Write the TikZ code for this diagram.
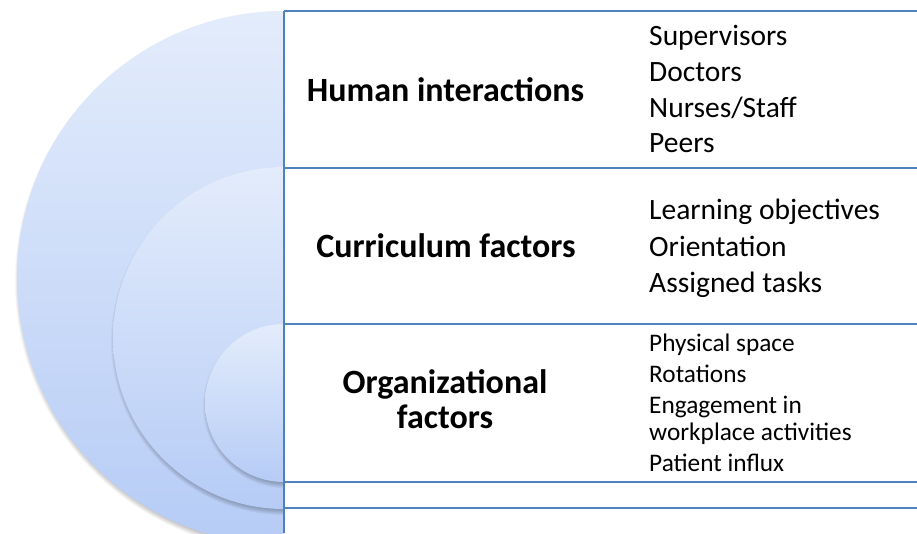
\documentclass[tikz,border=0pt]{standalone}
\usepackage{fontspec}
\setmainfont{Carlito}
\definecolor{ruleblue}{HTML}{4F81BD}
\definecolor{disctop}{HTML}{E3ECFB}
\definecolor{discbot}{HTML}{B6CCF6}
\begin{document}
\begin{tikzpicture}[x=1pt,y=-1pt,
  rule/.style={draw=ruleblue,line width=1.6pt},
  head/.style={font=\fontsize{34}{35}\bfseries\selectfont,anchor=base,inner sep=0pt},
  bigitem/.style={font=\fontsize{29.5}{36}\selectfont,anchor=base west,inner sep=0pt},
  smallitem/.style={font=\fontsize{25.3}{31}\selectfont,anchor=base west,inner sep=0pt},
  disc/.style={top color=disctop,bottom color=discbot,draw=none}]
\useasboundingbox (0,0) rectangle (917,533);

% nested half discs with soft shadows, cut off at the table edge
\begin{scope}
  \clip (0,0) rectangle (284,533);
  \foreach \cy/\r in {278/267,338/171,403/79}{
    \foreach \k in {0,...,7}
      \fill[black,opacity=0.035] (285,\cy+3) circle ({\r+3-\k*0.8});
    \shade[disc] (284,\cy) circle (\r);
  }
\end{scope}

% table rules
\coordinate (tl) at (284,11);
\coordinate (bl) at (284,533);
\foreach \y in {11,168,324,482,508}
  \draw[rule] (284,\y) -- (917,\y);
\draw[rule] (tl) -- (bl);

% headings
\node[head] (hum) at (445.5,101.5) {Human interactions};
\node[head] (cur) at (446,257) {Curriculum factors};
\node[head] (org1) at (445,393) {Organizational};
\node[head] (org2) at (445,428) {factors};

% item lists
\foreach \t/\y [count=\i] in {Supervisors/45.5,Doctors/81,Nurses\slash Staff/117,Peers/152.5}
  \node[bigitem] (h\i) at (649,\y) {\t};
\foreach \t/\y [count=\i] in {Learning objectives/219.5,Orientation/256,Assigned tasks/292}
  \node[bigitem] (c\i) at (649,\y) {\t};
\foreach \t/\y [count=\i] in {Physical space/351.5,Rotations/382.5,Engagement in/413,workplace activities/440,Patient influx/471.5}
  \node[smallitem] (o\i) at (649,\y) {\t};
\end{tikzpicture}
\end{document}
